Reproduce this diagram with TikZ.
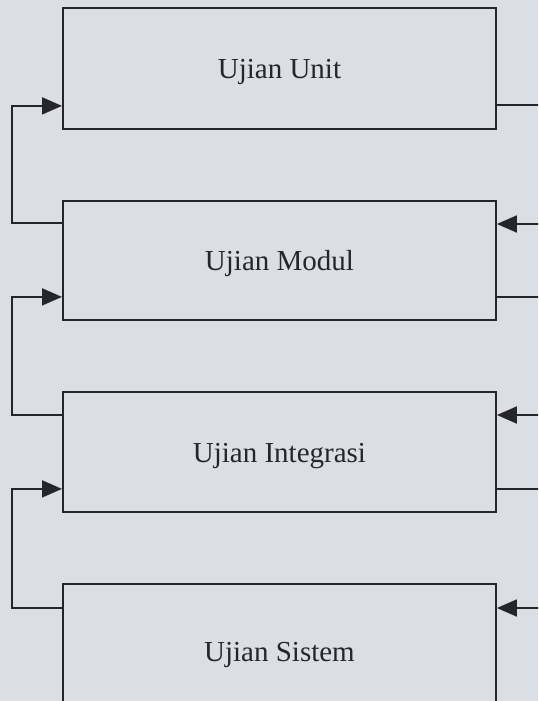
\documentclass[tikz,border=0pt]{standalone}
\usepackage{fontspec}
\setmainfont{Liberation Serif}
\usetikzlibrary{arrows.meta}
\definecolor{bgc}{RGB}{219,222,228}
\definecolor{ink}{RGB}{38,38,42}
\begin{document}
\begin{tikzpicture}[x=1pt,y=-1pt,
  stage/.style={draw=ink, line width=1.9pt, fill=bgc, rectangle, inner sep=0pt,
    minimum width=433pt, anchor=north west, text=ink,
    text height=25pt, text depth=4pt,
    font=\fontsize{29}{32}\selectfont},
  link/.style={draw=ink, line width=1.9pt},
  arr/.style={link, -{Triangle[length=20pt,width=17pt]}}]
\clip (0,0) rectangle (538,701);
\fill[bgc] (0,0) rectangle (538,701);
\node[stage, minimum height=121pt] (unit) at (62,7) {Ujian Unit};
\node[stage, minimum height=119pt] (modul) at (62,200) {Ujian Modul};
\node[stage, minimum height=120pt] (integ) at (62,391) {Ujian Integrasi};
\node[stage, minimum height=134pt] (sistem) at (62,583) {Ujian Sistem};
% left feedback
\draw[arr] ([yshift=-23pt]modul.north west) -- ++(-50pt,0) |- ([yshift=24pt]unit.south west);
\draw[arr] ([yshift=-24pt]integ.north west) -- ++(-50pt,0) |- ([yshift=24pt]modul.south west);
\draw[arr] ([yshift=-25pt]sistem.north west) -- ++(-50pt,0) |- ([yshift=24pt]integ.south west);
% right side
\draw[link] ([yshift=25pt]unit.south east) -- ++(50pt,0);
\draw[arr] ([xshift=50pt,yshift=-24pt]modul.north east) -- ([yshift=-24pt]modul.north east);
\draw[link] ([yshift=24pt]modul.south east) -- ++(50pt,0);
\draw[arr] ([xshift=50pt,yshift=-24pt]integ.north east) -- ([yshift=-24pt]integ.north east);
\draw[link] ([yshift=24pt]integ.south east) -- ++(50pt,0);
\draw[arr] ([xshift=50pt,yshift=-25pt]sistem.north east) -- ([yshift=-25pt]sistem.north east);
\end{tikzpicture}
\end{document}
